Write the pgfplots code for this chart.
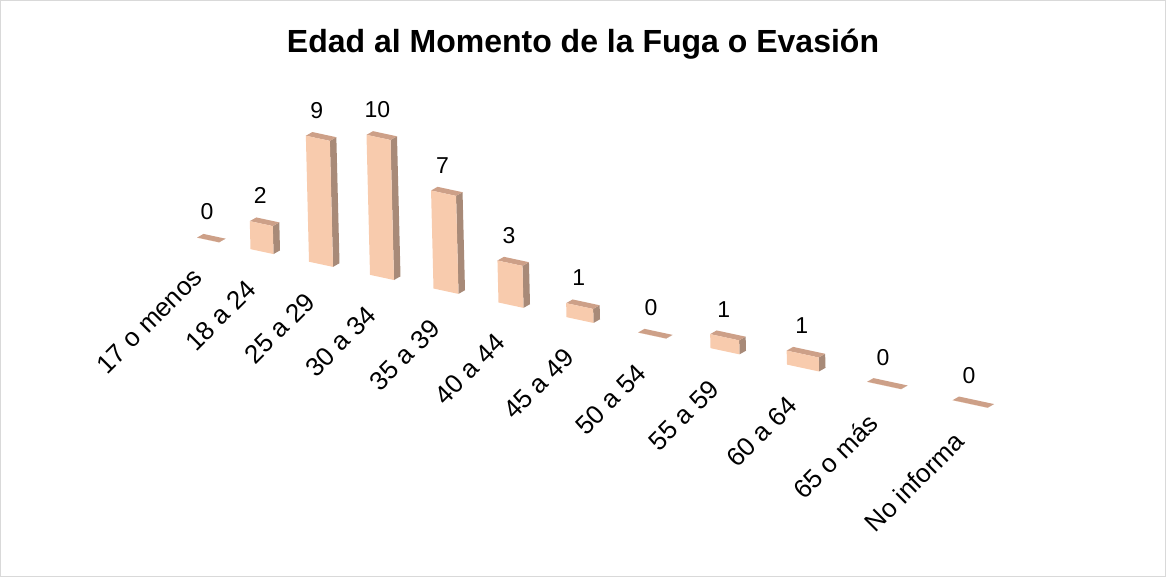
\documentclass[border=0pt]{standalone}
\usepackage{pgfplots}
\pgfplotsset{compat=1.18}
\usepackage{pgfplotstable}
\usepackage{fontspec}
\setmainfont{Liberation Sans}
\definecolor{barfront}{HTML}{F8CBAD}
\definecolor{bartop}{RGB}{205,160,136}
\definecolor{barside}{RGB}{168,138,120}
\definecolor{framegray}{RGB}{217,217,217}

\pgfplotstableread[col sep=comma]{
pos,value,w,label
-375,0,22,17 o menos
-321,2,23,18 a 24
-262,9,24,25 a 29
-201,10,24,30 a 34
-137,7,25,35 a 39
-72,3,25,40 a 44
-3,1,27,45 a 49
69,0,28,50 a 54
142,1,29,55 a 59
220,1,32,60 a 64
301,0,34,65 o más
387,0,35,No informa
}\agedata

\begin{document}
\begin{tikzpicture}
\useasboundingbox (0,0) rectangle (583pt,288.5pt);
\draw[framegray, line width=0.6pt] (0.3pt,0.3pt) rectangle (582.7pt,288.2pt);
\node[font=\bfseries\fontsize{16}{19}\selectfont] at (291.5pt,266.5pt) {Edad al Momento de la Fuga o Evasión};
\begin{axis}[
  at={(291.5pt,128.15pt)}, anchor=origin,
  x={(0.5pt,-0.1076pt)}, y={(-0.175pt,7pt)},
  xmin=-420, xmax=440, ymin=-2.45, ymax=12,
  axis line style={draw=none},
  major tick style={draw=none},
  ytick=\empty,
  xtick=data,
  xticklabels from table={\agedata}{label},
  xticklabel style={rotate=45, anchor=east, inner sep=0pt, xshift=-3.5pt, yshift=4.5pt, font=\fontsize{13}{15}\selectfont},
  clip=false,
  /pgf/number format/assume math mode=true,
]
% cuboid bars (front, top and side faces) drawn at each data point
\addplot[
  only marks,
  scatter,
  mark=*,
  mark size=0pt,
  mark options={draw=none, fill=none},
  visualization depends on={\thisrow{value} \as \val},
  visualization depends on={\thisrow{w} \as \wid},
  scatter/@pre marker code/.code={%
    \pgfkeys{/pgf/fpu=true,/pgf/fpu/output format=fixed}%
    \pgfmathsetmacro\xa{0.25*\wid}%
    \pgfmathsetmacro\ya{0.0538*\wid}%
    \pgfmathsetmacro\bx{0.175*\val}%
    \pgfmathsetmacro\by{7*\val}%
    \pgfmathsetmacro\tlx{-\xa}%
    \pgfmathsetmacro\tly{\ya}%
    \pgfmathsetmacro\trx{\xa}%
    \pgfmathsetmacro\try{-\ya}%
    \pgfmathsetmacro\blx{-\xa+\bx}%
    \pgfmathsetmacro\bly{\ya-\by}%
    \pgfmathsetmacro\brx{\xa+\bx}%
    \pgfmathsetmacro\bry{-\ya-\by}%
    \pgfmathsetmacro\srx{\brx+3.25}%
    \pgfmathsetmacro\sry{\bry+1.85}%
    \pgfmathsetmacro\stx{\trx+3.25}%
    \pgfmathsetmacro\sty{\try+1.85}%
    \pgfmathsetmacro\ktx{\tlx+3.25}%
    \pgfmathsetmacro\kty{\tly+1.85}%
    \pgfkeys{/pgf/fpu=false}%
    \fill[fill=barside, draw=none] (\trx pt,\try pt) -- (\brx pt,\bry pt) -- (\srx pt,\sry pt) -- (\stx pt,\sty pt) -- cycle;
    \fill[fill=bartop, draw=none] (\tlx pt,\tly pt) -- (\trx pt,\try pt) -- (\stx pt,\sty pt) -- (\ktx pt,\kty pt) -- cycle;
    \fill[fill=barfront, draw=none] (\tlx pt,\tly pt) -- (\trx pt,\try pt) -- (\brx pt,\bry pt) -- (\blx pt,\bly pt) -- cycle;
  },
  scatter/@post marker code/.code={},
] table[x=pos, y=value] {\agedata};
% value labels
\addplot[
  draw=none, mark=none,
  nodes near coords,
  every node near coord/.append style={text=black, anchor=center, yshift=14pt, xshift=-0.5pt, font=\fontsize{11.5}{13}\selectfont},
] table[x=pos, y=value] {\agedata};
\end{axis}
\end{tikzpicture}
\end{document}
